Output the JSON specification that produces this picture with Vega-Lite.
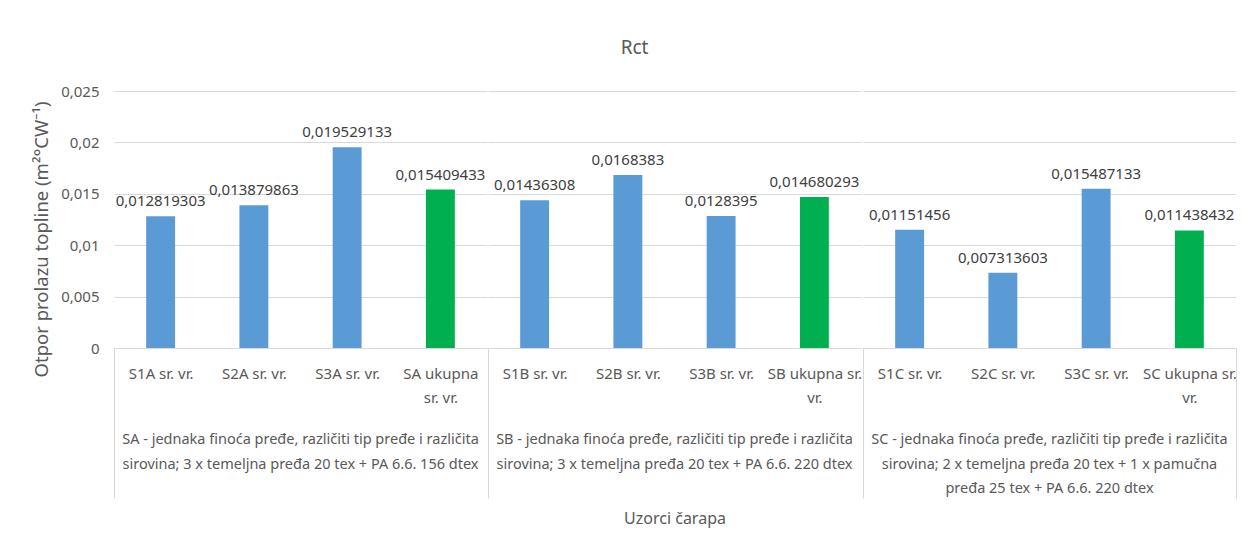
{
  "$schema": "https://vega.github.io/schema/vega-lite/v6.json",
  "padding": {"left": 32, "top": 39, "right": 5, "bottom": 5},
  "background": "white",
  "config": {
    "locale": {"number": {"decimal": ",", "thousands": ".", "grouping": [3], "currency": ["", " €"]}},
    "view": {"stroke": null},
    "font": "Noto Sans"
  },
  "title": {"text": "Rct", "fontSize": 19, "font": "Noto Sans", "fontWeight": "normal", "color": "#595959", "offset": 26, "anchor": "middle"},
  "data": {
    "values": [
      {"g": 1, "skupina": "SA - jednaka finoća pređe, različiti tip pređe i različita\nsirovina; 3 x temeljna pređa 20 tex + PA 6.6. 156 dtex", "uzorak": "S1A  sr. vr.", "vrsta": "uzorak", "rct": 0.012819303},
      {"g": 1, "skupina": "SA - jednaka finoća pređe, različiti tip pređe i različita\nsirovina; 3 x temeljna pređa 20 tex + PA 6.6. 156 dtex", "uzorak": "S2A sr. vr.", "vrsta": "uzorak", "rct": 0.013879863},
      {"g": 1, "skupina": "SA - jednaka finoća pređe, različiti tip pređe i različita\nsirovina; 3 x temeljna pređa 20 tex + PA 6.6. 156 dtex", "uzorak": "S3A sr. vr.", "vrsta": "uzorak", "rct": 0.019529133},
      {"g": 1, "skupina": "SA - jednaka finoća pređe, različiti tip pređe i različita\nsirovina; 3 x temeljna pređa 20 tex + PA 6.6. 156 dtex", "uzorak": "SA ukupna\nsr. vr.", "vrsta": "ukupno", "rct": 0.015409433},
      {"g": 2, "skupina": "SB - jednaka finoća pređe, različiti tip pređe i različita\nsirovina; 3 x temeljna pređa 20 tex + PA 6.6. 220 dtex", "uzorak": "S1B sr. vr.", "vrsta": "uzorak", "rct": 0.01436308},
      {"g": 2, "skupina": "SB - jednaka finoća pređe, različiti tip pređe i različita\nsirovina; 3 x temeljna pređa 20 tex + PA 6.6. 220 dtex", "uzorak": "S2B sr. vr.", "vrsta": "uzorak", "rct": 0.0168383},
      {"g": 2, "skupina": "SB - jednaka finoća pređe, različiti tip pređe i različita\nsirovina; 3 x temeljna pređa 20 tex + PA 6.6. 220 dtex", "uzorak": "S3B sr. vr.", "vrsta": "uzorak", "rct": 0.0128395},
      {"g": 2, "skupina": "SB - jednaka finoća pređe, različiti tip pređe i različita\nsirovina; 3 x temeljna pređa 20 tex + PA 6.6. 220 dtex", "uzorak": "SB ukupna sr.\nvr.", "vrsta": "ukupno", "rct": 0.014680293},
      {"g": 3, "skupina": "SC - jednaka finoća pređe, različiti tip pređe i različita\nsirovina; 2 x temeljna pređa 20 tex + 1 x pamučna\npređa 25 tex + PA 6.6. 220 dtex", "uzorak": "S1C sr. vr.", "vrsta": "uzorak", "rct": 0.01151456},
      {"g": 3, "skupina": "SC - jednaka finoća pređe, različiti tip pređe i različita\nsirovina; 2 x temeljna pređa 20 tex + 1 x pamučna\npređa 25 tex + PA 6.6. 220 dtex", "uzorak": "S2C sr. vr.", "vrsta": "uzorak", "rct": 0.007313603},
      {"g": 3, "skupina": "SC - jednaka finoća pređe, različiti tip pređe i različita\nsirovina; 2 x temeljna pređa 20 tex + 1 x pamučna\npređa 25 tex + PA 6.6. 220 dtex", "uzorak": "S3C sr. vr.", "vrsta": "uzorak", "rct": 0.015487133},
      {"g": 3, "skupina": "SC - jednaka finoća pređe, različiti tip pređe i različita\nsirovina; 2 x temeljna pređa 20 tex + 1 x pamučna\npređa 25 tex + PA 6.6. 220 dtex", "uzorak": "SC ukupna sr.\nvr.", "vrsta": "ukupno", "rct": 0.011438432}
    ]
  },
  "facet": {
    "column": {
      "field": "skupina",
      "type": "nominal",
      "sort": {"field": "g", "op": "min"},
      "title": "Uzorci čarapa",
      "header": {
        "labelOrient": "bottom",
        "labelExpr": "split(datum.label, '\\n')",
        "labelFont": "Noto Sans",
        "labelFontSize": 14.5,
        "labelColor": "#595959",
        "labelLineHeight": 24.5,
        "labelPadding": -52,
        "labelAngle": 0,
        "labelAlign": "center",
        "titleOrient": "bottom",
        "titleFont": "Noto Sans",
        "titleFontSize": 16,
        "titleFontWeight": "normal",
        "titleColor": "#595959",
        "titlePadding": 2
      }
    }
  },
  "spacing": 0,
  "resolve": {"scale": {"x": "independent"}},
  "spec": {
    "width": 373,
    "height": 257,
    "encoding": {
      "x": {
        "field": "uzorak",
        "type": "nominal",
        "sort": null,
        "scale": {"paddingInner": 0, "paddingOuter": 0},
        "axis": {
          "title": null,
          "labelAngle": 0,
          "labelExpr": "split(datum.label, '\\n')",
          "labelFont": "Noto Sans",
          "labelFontSize": 15,
          "labelColor": "#595959",
          "labelLineHeight": 24.5,
          "labelBaseline": "top",
          "labelPadding": -132,
          "domainColor": "#d9d9d9",
          "tickBand": "extent",
          "tickSize": 150,
          "tickColor": "#d9d9d9",
          "tickOpacity": {"condition": {"test": "datum.index == -1 || (datum.index == 1 && indexof('' + datum.value, 'SC') == 0)", "value": 1}, "value": 0}
        }
      },
      "y": {
        "field": "rct",
        "type": "quantitative",
        "scale": {"domain": [0, 0.025]},
        "axis": {
          "title": "Otpor prolazu topline (m²°CW⁻¹)",
          "titleFont": "Noto Sans",
          "titleFontSize": 18.5,
          "titleFontWeight": "normal",
          "titleColor": "#595959",
          "titlePadding": 9,
          "titleY": 148,
          "values": [0, 0.005, 0.01, 0.015, 0.02, 0.025],
          "format": "",
          "labelFont": "Noto Sans",
          "labelFontSize": 15,
          "labelColor": "#595959",
          "labelPadding": 14,
          "domain": false,
          "ticks": false,
          "gridColor": "#d9d9d9"
        }
      }
    },
    "layer": [
      {
        "mark": {"type": "bar", "width": {"band": 0.31}},
        "encoding": {
          "color": {"field": "vrsta", "type": "nominal", "scale": {"domain": ["uzorak", "ukupno"], "range": ["#5b9bd5", "#00b050"]}, "legend": null}
        }
      },
      {
        "mark": {"type": "text", "baseline": "bottom", "dy": -7, "font": "Noto Sans", "fontSize": 15, "color": "#404040"},
        "encoding": {
          "text": {"field": "rct", "type": "quantitative", "format": ""}
        }
      }
    ]
  }
}
